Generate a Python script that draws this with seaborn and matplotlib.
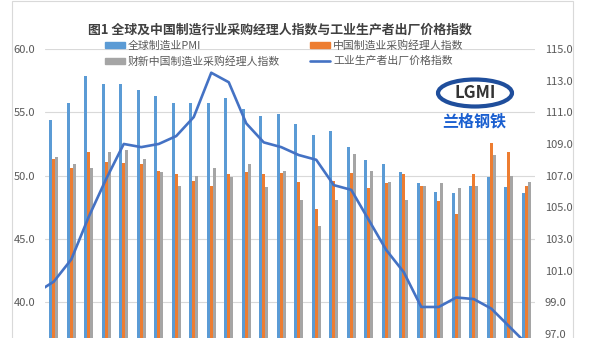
import numpy as np
import pandas as pd
import matplotlib
matplotlib.use("Agg")
import matplotlib.pyplot as plt
from matplotlib.patches import Patch, Ellipse, Rectangle
from matplotlib.lines import Line2D
import seaborn as sns

months = [f"{y}-{m:02d}" for y in (2021, 2022, 2023) for m in range(1, 13)][:28]

global_pmi = [54.4, 55.7, 57.9, 57.2, 57.2, 56.8, 56.3, 55.7, 55.7, 55.7, 56.1, 55.3, 54.7, 54.9,
              54.1, 53.2, 53.5, 52.3, 51.2, 50.9, 50.3, 49.4, 48.7, 48.6, 49.2, 49.9, 49.1, 48.6]
china_pmi = [51.3, 50.6, 51.9, 51.1, 51.0, 50.9, 50.4, 50.1, 49.6, 49.2, 50.1, 50.3, 50.1, 50.2,
             49.5, 47.4, 49.6, 50.2, 49.0, 49.4, 50.1, 49.2, 48.0, 47.0, 50.1, 52.6, 51.9, 49.2]
caixin_pmi = [51.5, 50.9, 50.6, 51.9, 52.0, 51.3, 50.3, 49.2, 50.0, 50.6, 49.9, 50.9, 49.1, 50.4,
              48.1, 46.0, 48.1, 51.7, 50.4, 49.5, 48.1, 49.2, 49.4, 49.0, 49.2, 51.6, 50.0, 49.5]
# PPI, with the previous month (2020-12) that enters from the left edge
ppi_prev = 99.6
ppi = [100.3, 101.7, 104.4, 106.8, 109.0, 108.8, 109.0, 109.5, 110.7, 113.5, 112.9, 110.3, 109.1, 108.8,
       108.3, 108.0, 106.4, 106.1, 104.2, 102.3, 100.9, 98.7, 98.7, 99.3, 99.2, 98.6, 97.5, 96.4]

bar_names = ["全球制造业PMI", "中国制造业采购经理人指数", "财新中国制造业采购经理人指数"]
line_name = "工业生产者出厂价格指数"
colors = ["#5B9BD5", "#ED7D31", "#A5A5A5"]
line_color = "#4472C4"

idx = list(range(len(months)))
df = pd.DataFrame({"idx": idx * 3,
                   "value": global_pmi + china_pmi + caixin_pmi,
                   "series": sum([[n] * len(months) for n in bar_names], [])})
line_df = pd.DataFrame({"idx": [-1] + idx, "ppi": [ppi_prev] + ppi})

sns.set_theme(style="white")
plt.rcParams["font.family"] = ["Noto Sans CJK SC", "DejaVu Sans"]

fig = plt.figure(figsize=(6, 3.38), dpi=100)
ax = fig.add_axes([45 / 600, 0, 490 / 600, 289 / 338])

sns.barplot(data=df, x="idx", y="value", hue="series", hue_order=bar_names,
            palette=colors, width=0.5, gap=0, saturation=1, ax=ax, legend=False,
            linewidth=0, edgecolor="none")
ax.set_ylim(37.19, 60)
ax.set_yticks([40, 45, 50, 55, 60])
ax.set_yticklabels([f"{v:.1f}" for v in [40, 45, 50, 55, 60]])
ax.yaxis.grid(True, color="#d9d9d9", lw=0.8)
ax.set_axisbelow(True)
ax.set_xlabel("")
ax.set_ylabel("")
ax.set_xticklabels([])
ax.tick_params(axis="both", length=0, labelsize=8, labelcolor="#595959", pad=7)
for s in ax.spines.values():
    s.set_visible(False)

ax2 = ax.twinx()
sns.lineplot(data=line_df, x="idx", y="ppi", color=line_color, lw=1.9, ax=ax2)
ax2.set_ylim(96.74, 115)
ax2.set_yticks(np.arange(97, 116, 2))
ax2.set_yticklabels([f"{v:.1f}" for v in np.arange(97, 116, 2)])
ax2.set_ylabel("")
ax2.tick_params(axis="y", length=0, labelsize=8, labelcolor="#595959", pad=7)
for s in ax2.spines.values():
    s.set_visible(False)
ax.set_xlim(-0.5, len(months) - 0.5)

handles = [Patch(color=colors[0]), Patch(color=colors[2]), Patch(color=colors[1]),
           Line2D([], [], color=line_color, lw=1.9)]
labels = [bar_names[0], bar_names[2], bar_names[1], line_name]
ax2.legend(handles, labels, ncol=2, frameon=False, loc="upper left",
           bbox_to_anchor=(105 / 600, 1 - 40 / 338), bbox_transform=fig.transFigure,
           fontsize=7.8, labelcolor="#595959", handlelength=1.8, handleheight=0.45,
           handletextpad=0.3, columnspacing=2.8, labelspacing=0.45, borderpad=0, borderaxespad=0)

fig.text(0.467, 1 - 30 / 338, "图1 全球及中国制造行业采购经理人指数与工业生产者出厂价格指数",
         ha="center", va="center", fontsize=9.3, weight="bold", color="#404040")

# logo
fig.patches.append(Ellipse((475 / 600, 1 - 93 / 338), 74 / 600, 27 / 338, transform=fig.transFigure,
                           facecolor="white", edgecolor="#1f4e9c", lw=3, zorder=5))
fig.text(475 / 600, 1 - 93 / 338, "LGMI", ha="center", va="center", fontsize=12,
         weight="bold", color="#333333", zorder=6)
fig.text(474 / 600, 1 - 121 / 338, "兰格钢铁", ha="center", va="center", fontsize=11.5,
         weight="bold", color="#1a5fd0", zorder=6)

# chart frame
fig.patches.append(Rectangle((12 / 600, -0.05), 561 / 600, 1.05 - 1.5 / 338, transform=fig.transFigure,
                             fill=False, edgecolor="#d9d9d9", lw=0.8))

fig.savefig("out.png", dpi=100)
